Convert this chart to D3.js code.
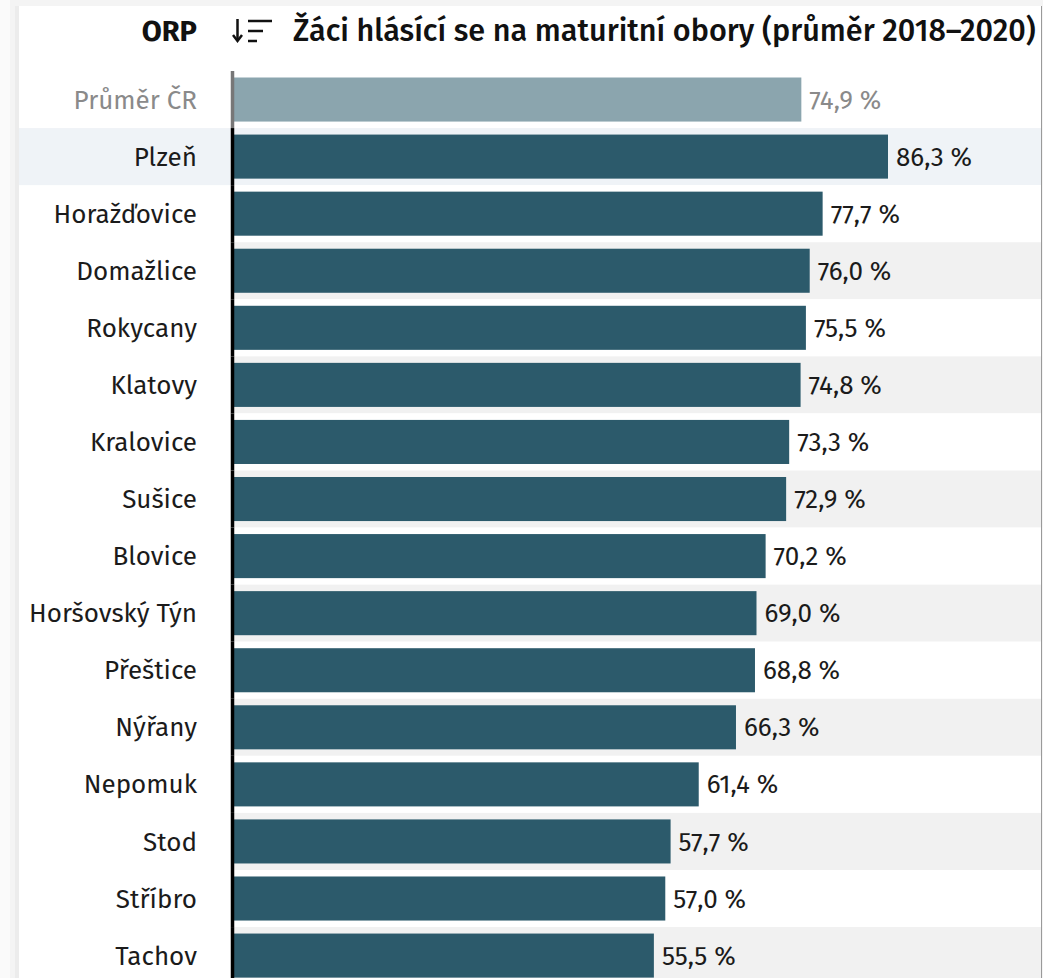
<!DOCTYPE html>
<html>
<head>
<meta charset="utf-8">
<script src="https://cdn.jsdelivr.net/npm/d3@7"></script>
<style>
  html, body { margin: 0; padding: 0; background: #f3f3f3; }
  svg { display: block; font-family: "Fira Sans", Roboto, sans-serif; }
</style>
</head>
<body>
<div id="chart"></div>
<script>
// data
const categories = ["Průměr ČR", "Plzeň", "Horažďovice", "Domažlice", "Rokycany", "Klatovy",
  "Kralovice", "Sušice", "Blovice", "Horšovský Týn", "Přeštice", "Nýřany", "Nepomuk",
  "Stod", "Stříbro", "Tachov"];
const values = [74.9, 86.3, 77.7, 76.0, 75.5, 74.8, 73.3, 72.9, 70.2, 69.0, 68.8, 66.3,
  61.4, 57.7, 57.0, 55.5];
const headerLabel = "ORP";
const title = "Žáci hlásící se na maturitní obory (průměr 2018–2020)";
const averageName = "Průměr ČR";
const highlightName = "Plzeň";

const data = categories.map((c, i) => ({ name: c, value: values[i] }));

/** CONSTANTS */
const width = 1043,
  height = 978,
  rowTop = 71,
  rowStep = 57.07,
  labelRight = 197,
  margin = { left: 232, right: 155 };

const fmt = v => d3.format(".1f")(v).replace(".", ",") + " %";

/** SCALES */
const rowScale = d3.scaleBand()
  .domain(categories)
  .range([rowTop, rowTop + rowStep * categories.length])
  .padding(0);

const barScale = d3.scaleBand()
  .domain(categories)
  .range([rowTop, rowTop + rowStep * categories.length])
  .paddingInner(0.228)
  .paddingOuter(0.114);

const xScale = d3.scaleLinear()
  .domain([0, d3.max(values)])
  .range([margin.left, width - margin.right]);

/** DRAWING ELEMENTS */
const svg = d3.select("#chart")
  .append("svg")
  .attr("width", width)
  .attr("height", height);

// page frame
svg.append("rect").attr("x", 0).attr("y", 0).attr("width", width).attr("height", height).attr("fill", "#f4f4f4");
svg.append("rect").attr("x", 0).attr("y", 0).attr("width", 10).attr("height", height).attr("fill", "#fafafa");
svg.append("rect").attr("x", 15).attr("y", 6).attr("width", 4).attr("height", height).attr("fill", "#ececec");
svg.append("rect").attr("x", 19).attr("y", 6).attr("width", 1022).attr("height", height).attr("fill", "#ffffff");
svg.append("line").attr("x1", 1041.5).attr("x2", 1041.5).attr("y1", 6).attr("y2", height)
  .attr("stroke", "#9a9a9a").attr("stroke-width", 1);

// row backgrounds
svg.selectAll("rect.row")
  .data(data)
  .join("rect")
  .attr("class", "row")
  .attr("x", d => d.name === highlightName ? 19 : xScale(0))
  .attr("y", d => rowScale(d.name))
  .attr("width", d => d.name === highlightName ? 1022 : 1041 - xScale(0))
  .attr("height", rowScale.bandwidth())
  .attr("fill", (d, i) => d.name === highlightName ? "#eff3f7" : (i % 2 === 1 ? "#f1f1f1" : "#ffffff"));

// bars
svg.selectAll("rect.bar")
  .data(data)
  .join("rect")
  .attr("class", "bar")
  .attr("x", xScale(0))
  .attr("y", d => barScale(d.name))
  .attr("width", d => xScale(d.value) - xScale(0))
  .attr("height", barScale.bandwidth())
  .attr("fill", d => d.name === averageName ? "#8ba5ae" : "#2c5a6b");

// axis line
svg.selectAll("line.axis")
  .data(data)
  .join("line")
  .attr("class", "axis")
  .attr("x1", xScale(0) + 0.5)
  .attr("x2", xScale(0) + 0.5)
  .attr("y1", d => rowScale(d.name))
  .attr("y2", d => rowScale(d.name) + rowScale.bandwidth())
  .attr("stroke", d => d.name === averageName ? "#777777" : "#000000")
  .attr("stroke-width", 3.5);

// value labels
svg.selectAll("text.value")
  .data(data)
  .join("text")
  .attr("class", "value")
  .attr("x", d => xScale(d.value) + 8)
  .attr("y", d => rowScale(d.name) + rowScale.bandwidth() / 2)
  .attr("dy", "0.35em")
  .attr("font-size", 26)
  .attr("fill", d => d.name === averageName ? "#8a8a8a" : "#1b1b1b")
  .text(d => fmt(d.value));

// category labels
svg.selectAll("text.cat")
  .data(data)
  .join("text")
  .attr("class", "cat")
  .attr("x", labelRight)
  .attr("y", d => rowScale(d.name) + rowScale.bandwidth() / 2)
  .attr("dy", "0.35em")
  .attr("text-anchor", "end")
  .attr("font-size", 26)
  .attr("fill", d => d.name === averageName ? "#8a8a8a" : "#1b1b1b")
  .text(d => d.name);

// header
svg.append("text")
  .attr("x", labelRight)
  .attr("y", 41)
  .attr("text-anchor", "end")
  .attr("font-size", 29)
  .attr("font-weight", 700)
  .attr("fill", "#111")
  .text(headerLabel);

// sort icon
const icon = svg.append("g").attr("stroke", "#111").attr("stroke-width", 2.5).attr("fill", "none");
icon.append("line").attr("x1", 237.5).attr("x2", 237.5).attr("y1", 19).attr("y2", 40);
icon.append("path").attr("d", "M233,35 L237.5,41 L242,35");
icon.append("line").attr("x1", 248).attr("x2", 272).attr("y1", 21).attr("y2", 21);
icon.append("line").attr("x1", 248).attr("x2", 263).attr("y1", 31).attr("y2", 31);
icon.append("line").attr("x1", 248).attr("x2", 257).attr("y1", 41).attr("y2", 41);

svg.append("text")
  .attr("x", 293)
  .attr("y", 41)
  .attr("font-size", 30.6)
  .attr("font-weight", 500)
  .attr("fill", "#111")
  .text(title);
</script>
</body>
</html>
